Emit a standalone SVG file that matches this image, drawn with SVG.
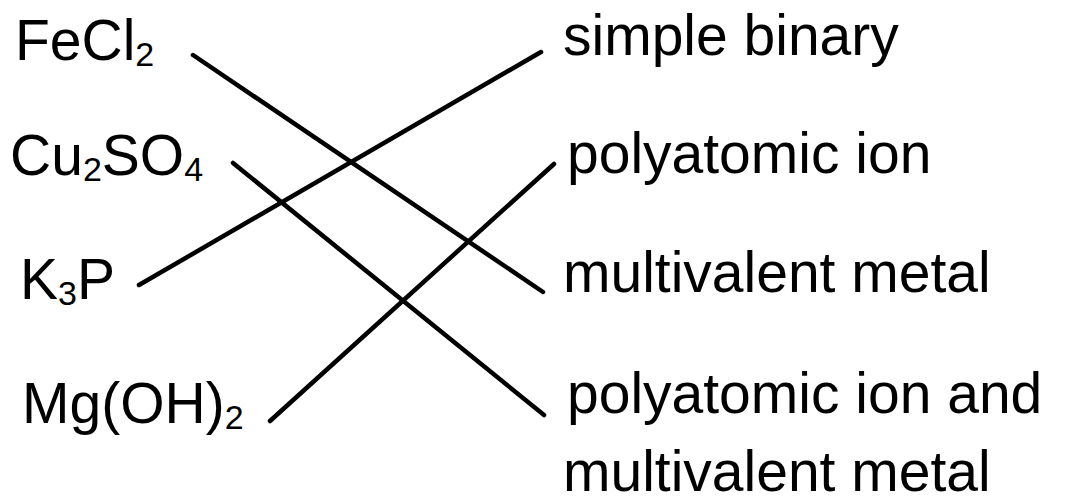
<svg xmlns="http://www.w3.org/2000/svg" width="1069" height="499" viewBox="0 0 1069 499">
<style>
text{font-family:"Liberation Sans",Arial,sans-serif;font-size:57px;fill:#000}
.sub{font-size:34px}
.conn line{stroke:#000;stroke-width:4.5;stroke-linecap:round}
</style>
<rect width="1069" height="499" fill="#fff"/>
<g id="left-fecl2"><text x="15" y="60">FeCl<tspan class="sub" dy="6">2</tspan></text></g>
<g id="left-cu2so4"><text x="10" y="175">Cu<tspan class="sub" dy="6">2</tspan><tspan dy="-6">SO</tspan><tspan class="sub" dy="6">4</tspan></text></g>
<g id="left-k3p"><text x="20" y="299">K<tspan class="sub" dy="6">3</tspan><tspan dy="-6">P</tspan></text></g>
<g id="left-mgoh2"><text x="22" y="423">Mg(OH)<tspan class="sub" dy="6">2</tspan></text></g>
<g id="right-simple"><text x="563" y="55">simple binary</text></g>
<g id="right-poly"><text x="567" y="173">polyatomic ion</text></g>
<g id="right-multi"><text x="563" y="292">multivalent metal</text></g>
<g id="right-polymulti"><text x="567" y="413">polyatomic ion and</text><text x="563" y="491">multivalent metal</text></g>
<g id="connectors" class="conn">
<line x1="193" y1="55" x2="543" y2="292"/>
<line x1="233" y1="163" x2="544" y2="415"/>
<line x1="139" y1="285" x2="541" y2="52"/>
<line x1="270" y1="421" x2="554" y2="164"/>
</g>
</svg>
